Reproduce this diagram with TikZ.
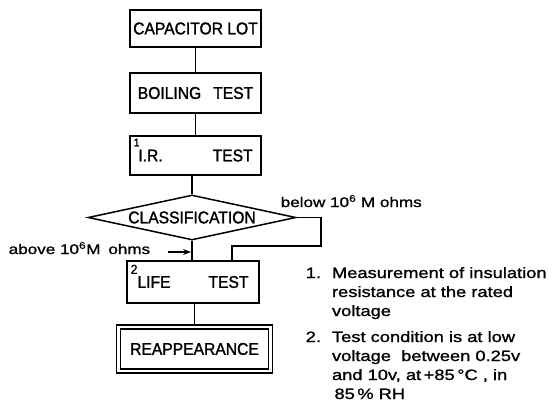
\documentclass[tikz,border=0pt]{standalone}
\usepackage{fontspec}
\setmainfont[FakeBold=1.2]{Liberation Sans}
\newfontfamily\boxfont[FakeStretch=0.92,FakeBold=1.5]{Liberation Sans}
\newfontfamily\notefont[FakeStretch=1.22,FakeBold=1.2]{Liberation Sans}
\usetikzlibrary{shapes.geometric,arrows.meta}
\begin{document}
\begin{tikzpicture}[x=1pt,y=-1pt,line width=1.5pt,
  box/.style={draw,rectangle,inner sep=0pt,minimum width=131pt,font=\boxfont\fontsize{17}{17}\selectfont},
  lbl/.style={inner sep=0pt,anchor=base west,font=\notefont\fontsize{14}{14}\selectfont},
  note/.style={inner sep=0pt,anchor=base west,align=left,font=\notefont\fontsize{15}{19}\selectfont},
  idx/.style={inner sep=0pt,anchor=north west},
  ]
\useasboundingbox (0,0) rectangle (559,413);
\node[box,minimum height=37pt] (cap) at (195.5,28.5) {CAPACITOR LOT};
\node[box,minimum height=40pt] (boil) at (195.5,93) {BOILING\hspace{12pt}TEST};
\node[box,minimum height=39pt] (ir) at (195.5,155.5) {I.R.\hspace{50pt}TEST};
\node[idx,font=\boxfont\fontsize{11}{11}\selectfont] (n1) at (133,138) {1};
\node[draw,diamond,aspect=4.62,inner sep=0pt,minimum width=208pt,minimum height=45pt,font=\boxfont\fontsize{17}{17}\selectfont] (cls) at (192,217.5) {CLASSIFICATION};
\node[box,minimum width=132pt,minimum height=42pt] (life) at (193,282) {LIFE\hspace{38pt}TEST};
\node[idx,font=\boxfont\fontsize{13}{13}\selectfont] (n2) at (130,264) {2};
\node[box,double,double distance=2.6pt,line width=1.3pt,minimum width=152pt,minimum height=44pt] (reap) at (194.5,349) {REAPPEARANCE};

\draw (cap.south) -- (cap.south |- boil.north);
\draw (boil.south) -- (boil.south |- ir.north);
\draw (cls.north) -- (cls.north |- ir.south);
\draw (cls.south) -- (cls.south |- life.north);
\draw (reap.north) -- (reap.north |- life.south);
\coordinate (rc) at (321,246);
\draw (cls.east) -| (rc) -| ([xshift=39pt]life.north);
\coordinate (as) at (168,252);
\draw[-{Stealth[length=8pt,width=6pt]},line width=1.1pt,shorten >=1pt] (as) -- (as -| cls.south);

\node[lbl] (below) at (280,207) {below 10\textsuperscript{6} M ohms};
\node[lbl] (above) at (8,254) {above 10\textsuperscript{6}M\hspace{8pt}ohms};

\node[note] (note1) at (305,278) {\begin{tabular}[t]{@{}l@{\hspace{11pt}}l@{}}1. & Measurement of insulation\\ & resistance at the rated\\ & voltage\end{tabular}};
\node[note] (note2) at (305,342) {\begin{tabular}[t]{@{}l@{\hspace{11pt}}l@{}}2. & Test condition is at low\\ & voltage\ \ between 0.25v\\ & and 10v, at\,+85\,°C , in\\ & \,85\,\% RH\end{tabular}};
\end{tikzpicture}
\end{document}
